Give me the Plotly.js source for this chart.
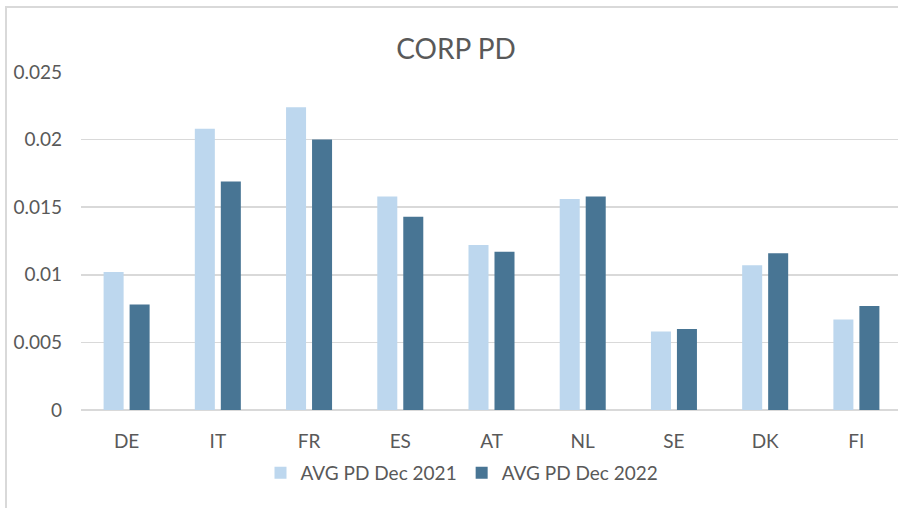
<!DOCTYPE html>
<html>
<head>
<meta charset="utf-8">
<script src="https://cdn.plot.ly/plotly-3.0.1.min.js"></script>
<style>
  html, body { margin: 0; padding: 0; background: #ffffff; overflow: hidden; width: 898px; height: 508px; }
  #chart { position: absolute; left: 0; top: 0; width: 904px; height: 508px; }
  #frame { position: absolute; left: 5px; top: 6px; width: 910px; height: 520px;
           border-left: 2px solid #d9d9d9; border-top: 2px solid #d9d9d9; pointer-events: none; }
</style>
</head>
<body>
<div id="chart"></div>
<div id="frame"></div>
<script>
const categories = ["DE", "IT", "FR", "ES", "AT", "NL", "SE", "DK", "FI"];
const seriesNames = ["AVG PD Dec 2021", "AVG PD Dec 2022"];
const pd2021 = [0.0102, 0.0208, 0.0224, 0.0158, 0.0122, 0.0156, 0.0058, 0.0107, 0.0067];
const pd2022 = [0.0078, 0.0169, 0.0200, 0.0143, 0.0117, 0.0158, 0.0060, 0.0116, 0.0077];
const yTicks = [0, 0.005, 0.01, 0.015, 0.02, 0.025];
const yTickLabels = ["0", "0.005", "0.01", "0.015", "0.02", "0.025"];

const fontFamily = "Lato, 'Open Sans', sans-serif";
const textColor = "#595959";

const data = [
  { type: "bar", name: seriesNames[0], x: categories, y: pd2021,
    marker: { color: "#bdd7ee" } },
  { type: "bar", name: seriesNames[1], x: categories, y: pd2022,
    marker: { color: "#487594" } }
];

const layout = {
  width: 904, height: 508,
  margin: { l: 81, r: 2, t: 72, b: 98 },
  paper_bgcolor: "#ffffff", plot_bgcolor: "#ffffff",
  font: { family: fontFamily, color: textColor, size: 19 },
  title: { text: "CORP PD", font: { family: fontFamily, size: 28, color: textColor },
           xref: "container", x: 456 / 904, xanchor: "center",
           yref: "container", y: 1 - 49 / 508, yanchor: "middle" },
  barmode: "group", bargap: 0.43, bargroupgap: 0.23,
  xaxis: { type: "category", showgrid: false, showline: false, ticks: "",
           tickfont: { size: 19, color: textColor }, ticklabelstandoff: 18, fixedrange: true },
  yaxis: { range: [0, 0.025], tickvals: yTicks, ticktext: yTickLabels,
           showgrid: true, gridcolor: "#d9d9d9", gridwidth: 1.5,
           zeroline: true, zerolinecolor: "#d9d9d9", zerolinewidth: 1.5,
           showline: false, ticks: "", tickfont: { size: 19, color: textColor },
           ticklabelstandoff: 18, fixedrange: true },
  showlegend: true,
  legend: { orientation: "h", xref: "container", yref: "container",
            x: 462 / 904, xanchor: "center", y: 1 - 473 / 508, yanchor: "middle",
            font: { size: 19, color: textColor }, itemwidth: 30, traceorder: "normal" }
};

Plotly.newPlot("chart", data, layout, { staticPlot: true, displayModeBar: false });
</script>
</body>
</html>
